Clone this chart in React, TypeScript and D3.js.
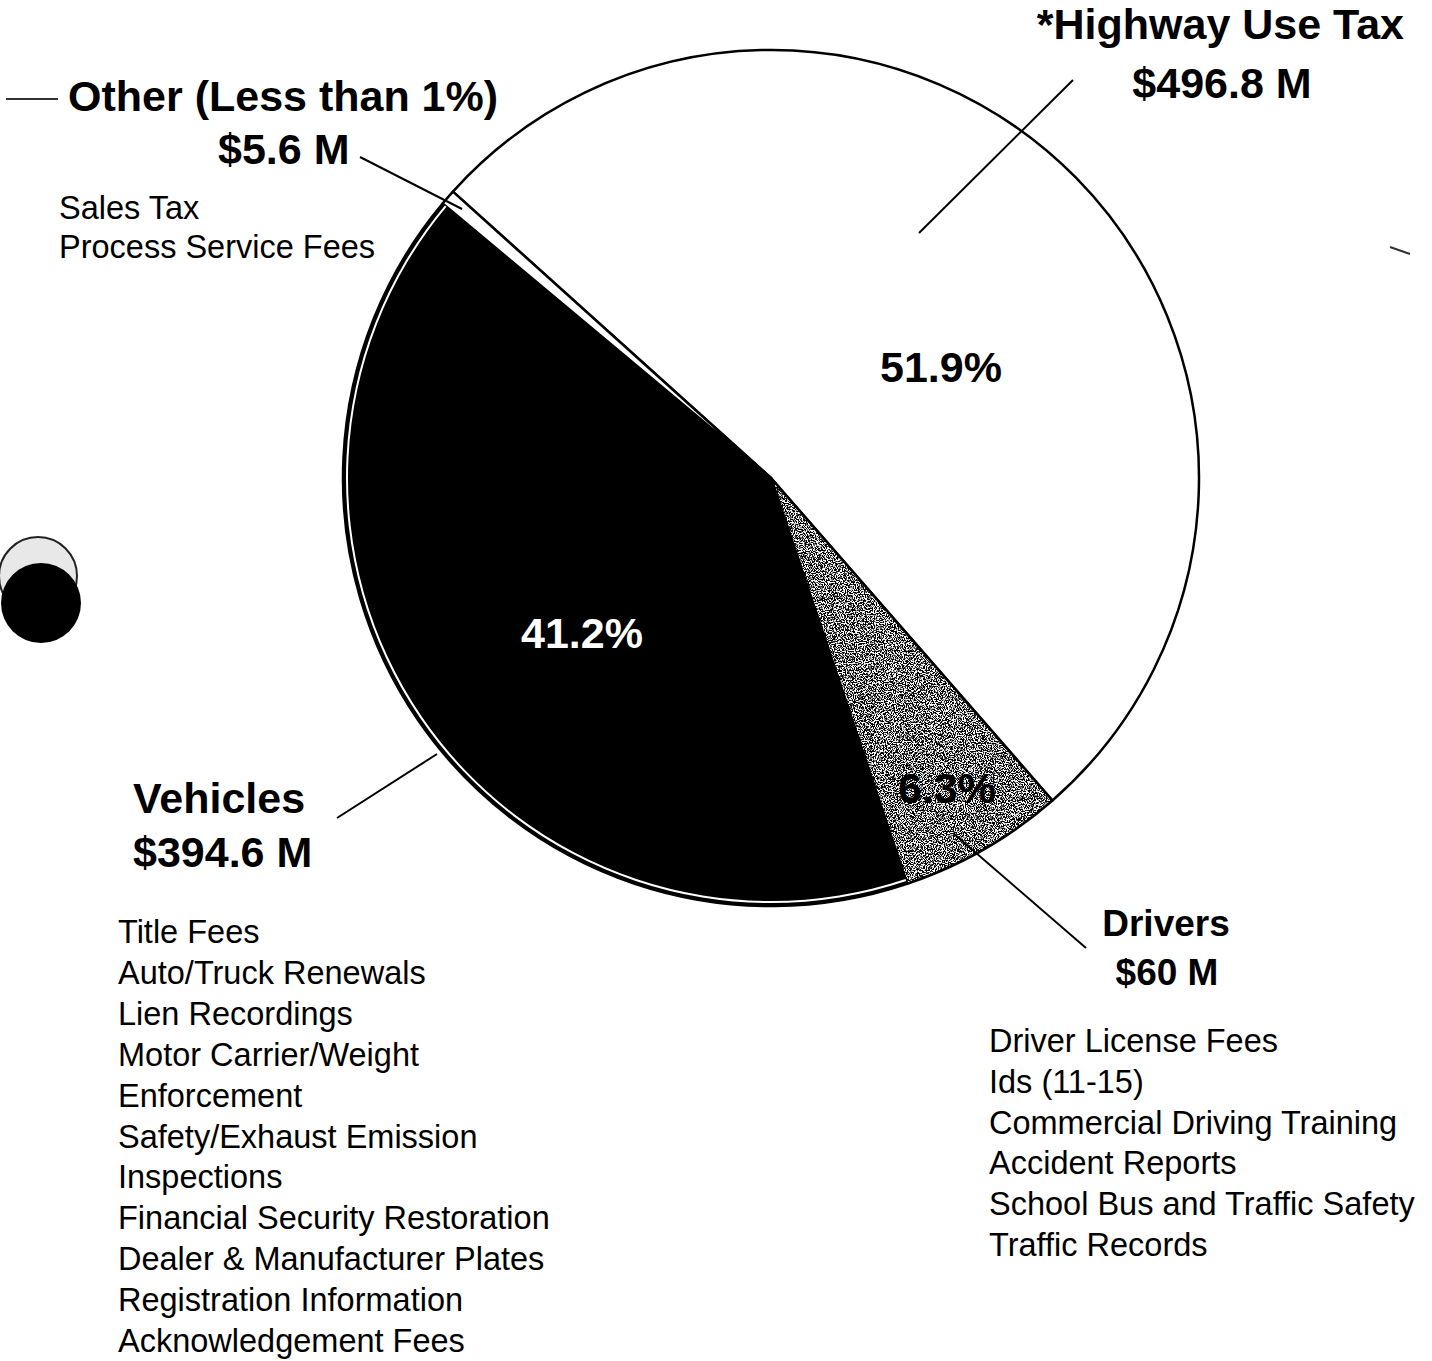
import React from "react";
import * as d3 from "d3";

const categories = ["*Highway Use Tax", "Drivers", "Vehicles", "Other (Less than 1%)"];
const amounts = [496.8, 60, 394.6, 5.6];
const amountLabels = ["$496.8 M", "$60 M", "$394.6 M", "$5.6 M"];
const percentLabels = ["51.9%", "6.3%", "41.2%", ""];
const vehicleItems = [
  "Title Fees",
  "Auto/Truck Renewals",
  "Lien Recordings",
  "Motor Carrier/Weight",
  "Enforcement",
  "Safety/Exhaust Emission",
  "Inspections",
  "Financial Security Restoration",
  "Dealer & Manufacturer Plates",
  "Registration Information",
  "Acknowledgement Fees",
];
const driverItems = [
  "Driver License Fees",
  "Ids (11-15)",
  "Commercial Driving Training",
  "Accident Reports",
  "School Bus and Traffic Safety",
  "Traffic Records",
];
const otherItems = ["Sales Tax", "Process Service Fees"];

const W = 1432;
const H = 1361;
const CX = 771;
const CY = 478;
const R = 428;
const FONT = "'Liberation Sans', Arial, Helvetica, sans-serif";

const fills = ["#ffffff", "url(#stipple)", "#000000", "#ffffff"];

export default function App() {
  const start = (-48 * Math.PI) / 180;
  const pie = d3
    .pie<number>()
    .sort(null)
    .value((d) => d)
    .startAngle(start)
    .endAngle(start + 2 * Math.PI);
  const arcs = pie(amounts);
  const arc = d3.arc<d3.PieArcDatum<number>>().innerRadius(0).outerRadius(R);
  const innerEdge = d3
    .arc<d3.PieArcDatum<number>>()
    .innerRadius(R - 5)
    .outerRadius(R - 3);

  const bold = { fontFamily: FONT, fontWeight: 700, fontSize: 43, fill: "#000" } as const;
  const boldSm = { ...bold, fontSize: 37 } as const;
  const reg = { fontFamily: FONT, fontWeight: 400, fontSize: 32.5, fill: "#000" } as const;

  return (
    <svg
      width={W}
      height={H}
      viewBox={`0 0 ${W} ${H}`}
      style={{ position: "absolute", left: 0, top: 0, background: "#fff" }}
    >
      <defs>
        <filter id="noise" x="0" y="0" width="100%" height="100%">
          <feTurbulence type="fractalNoise" baseFrequency="0.9" numOctaves="2" seed="3" />
          <feColorMatrix
            type="matrix"
            values="0 0 0 0 0  0 0 0 0 0  0 0 0 0 0  0 0 0 -9 5.1"
          />
        </filter>
        <pattern id="stipple" patternUnits="userSpaceOnUse" width="200" height="200">
          <rect width="200" height="200" fill="#ffffff" />
          <rect width="200" height="200" filter="url(#noise)" />
        </pattern>
      </defs>
      <rect width={W} height={H} fill="#fff" />

      {/* hole punch artifact */}
      <circle cx={38} cy={576} r={39} fill="#e8e8e8" stroke="#222" strokeWidth={2} />
      <circle cx={41} cy={603} r={40} fill="#000" />
      <line x1={6} y1={99} x2={58} y2={99} stroke="#333" strokeWidth={2} />
      <line x1={1390} y1={247} x2={1410} y2={254} stroke="#333" strokeWidth={2} />

      <g transform={`translate(${CX},${CY})`}>
        {arcs.map((a, i) => (
          <path key={categories[i]} d={arc(a) || ""} fill={fills[i]} stroke="#000" strokeWidth={2.5} strokeLinejoin="round" />
        ))}
        <path d={innerEdge(arcs[2]) || ""} fill="#fff" />
      </g>

      {/* percent labels */}
      <text x={941} y={382} textAnchor="middle" style={bold}>{percentLabels[0]}</text>
      <text x={582} y={648} textAnchor="middle" style={{ ...bold, fill: "#fff" }}>{percentLabels[2]}</text>
      <text x={947} y={803} textAnchor="middle" style={bold}>{percentLabels[1]}</text>

      {/* leader lines */}
      <g stroke="#000" strokeWidth={2}>
        <line x1={1073} y1={80} x2={919} y2={233} />
        <line x1={360} y1={157} x2={462} y2={209} />
        <line x1={337} y1={818} x2={437} y2={754} />
        <line x1={1086} y1={948} x2={953} y2={833} />
      </g>

      {/* Highway */}
      <text x={1404} y={39} textAnchor="end" style={bold}>{categories[0]}</text>
      <text x={1222} y={98} textAnchor="middle" style={bold}>{amountLabels[0]}</text>

      {/* Other */}
      <text x={68} y={111} style={bold}>{categories[3]}</text>
      <text x={218} y={164} style={bold}>{amountLabels[3]}</text>
      {otherItems.map((t, i) => (
        <text key={t} x={59} y={219 + i * 39} style={reg}>{t}</text>
      ))}

      {/* Vehicles */}
      <text x={133} y={813} style={bold}>{categories[2]}</text>
      <text x={133} y={867} style={bold}>{amountLabels[2]}</text>
      {vehicleItems.map((t, i) => (
        <text key={t} x={118} y={943 + i * 40.9} style={reg}>{t}</text>
      ))}

      {/* Drivers */}
      <text x={1166} y={936} textAnchor="middle" style={boldSm}>{categories[1]}</text>
      <text x={1167} y={985} textAnchor="middle" style={boldSm}>{amountLabels[1]}</text>
      {driverItems.map((t, i) => (
        <text key={t} x={989} y={1052 + i * 40.8} style={reg}>{t}</text>
      ))}
    </svg>
  );
}
